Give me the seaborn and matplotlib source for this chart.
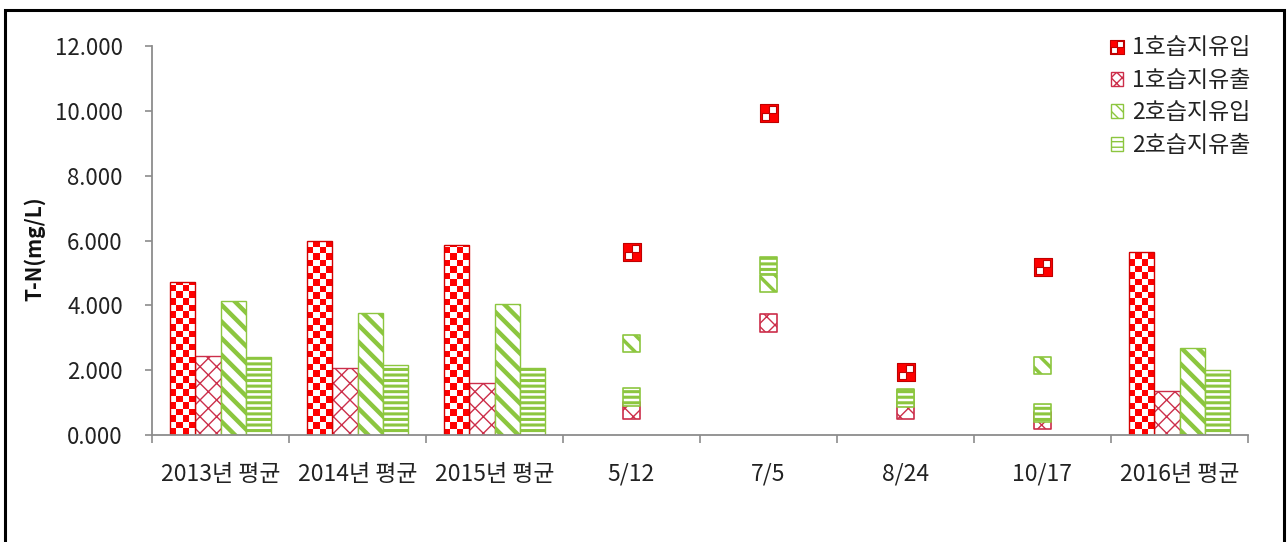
import math
import numpy as np
import pandas as pd
import matplotlib
matplotlib.use("Agg")
import matplotlib.pyplot as plt
from matplotlib.path import Path
from matplotlib.patches import Patch, Rectangle
from matplotlib.lines import Line2D
import seaborn as sns

# ---- data -------------------------------------------------------------
categories = ["2013년 평균", "2014년 평균", "2015년 평균", "5/12", "7/5",
              "8/24", "10/17", "2016년 평균"]
series = ["1호습지유입", "1호습지유출", "2호습지유입", "2호습지유출"]

avg_periods = ["2013년 평균", "2014년 평균", "2015년 평균", "2016년 평균"]
avg_in1 = [4.72, 6.00, 5.86, 5.63]
avg_out1 = [2.44, 2.06, 1.60, 1.35]
avg_in2 = [4.12, 3.75, 4.03, 2.67]
avg_out2 = [2.40, 2.15, 2.06, 2.00]

dates = ["5/12", "7/5", "8/24", "10/17"]
d_in1 = [5.63, 9.93, 1.94, 5.19]
d_out1 = [0.75, 3.45, 0.75, 0.45]
d_in2 = [2.83, 4.68, 1.15, 2.15]
d_out2 = [1.17, 5.23, 1.13, 0.68]

yticks = [0, 2, 4, 6, 8, 10, 12]

# ---- styling ----------------------------------------------------------
RED = "#FF0000"
RED_EDGE = "#D40000"
DARK_RED = "#C00000"
CRIMSON = "#CC2E4A"
GREEN = "#92D050"
GREEN_EDGE = "#8CC63F"
AXIS_GRAY = "#8C8C8C"
TEXT = "#222222"

sns.set_theme(style="white")
plt.rcParams["font.family"] = ["Noto Sans CJK KR", "DejaVu Sans"]
plt.rcParams["axes.unicode_minus"] = False

avg_df = pd.DataFrame({
    "period": np.repeat(avg_periods, len(series)),
    "series": series * len(avg_periods),
    "tn": np.ravel(np.column_stack([avg_in1, avg_out1, avg_in2, avg_out2])),
})

fig = plt.figure(figsize=(12.87, 5.42), dpi=100)
ax = fig.add_axes([152 / 1287, 107 / 542, 1096 / 1287, 389 / 542])

sns.barplot(data=avg_df, x="period", y="tn", hue="series", order=categories,
            hue_order=series, width=0.74, dodge=True, errorbar=None,
            legend=False, palette=["white"] * 4, ax=ax)

bar_styles = [
    dict(edge=RED_EDGE, hatch=None, hlw=1.0),
    dict(edge=CRIMSON, hatch="xx", hlw=1.0),
    dict(edge=GREEN_EDGE, hatch="\\\\", hlw=3.2),
    dict(edge=GREEN_EDGE, hatch="---", hlw=2.2),
]


def set_hatch_lw(artist, lw):
    if hasattr(artist, "set_hatch_linewidth"):
        artist.set_hatch_linewidth(lw)
    else:
        artist._hatch_linewidth = lw


for cont, st in zip(ax.containers, bar_styles):
    for patch in cont.patches:
        patch.set_edgecolor(st["edge"])
        patch.set_linewidth(1.0)
        patch.set_facecolor("white")
        if st["hatch"]:
            patch.set_hatch(st["hatch"])
            set_hatch_lw(patch, st["hlw"])

# checkerboard fill for the inflow bars of wetland 1
cell_h = 0.2
for patch in ax.containers[0].patches:
    h = patch.get_height()
    if not np.isfinite(h) or h <= 0:
        continue
    x0, w = patch.get_x(), patch.get_width()
    nrows = int(math.ceil(h / cell_h))
    ncols = 4
    grid = (np.add.outer(np.arange(nrows), np.arange(ncols)) % 2 == 0)
    img = np.ones((nrows, ncols, 3))
    img[grid] = matplotlib.colors.to_rgb(RED)
    im = ax.imshow(img, extent=(x0, x0 + w, 0, nrows * cell_h), origin="lower",
                   interpolation="nearest", aspect="auto", zorder=2.1)
    im.set_clip_path(patch)
    patch.set_facecolor("none")
    patch.set_zorder(2.2)

# ---- individual sampling dates as markers -----------------------------
checker_marker = Path(
    [(-1, -1), (1, -1), (1, 1), (-1, 1), (-1, -1),
     (0.0, 0.0), (0.0, 0.8), (0.8, 0.8), (0.8, 0.0), (0.0, 0.0),
     (-0.8, -0.8), (-0.8, 0.0), (0.0, 0.0), (0.0, -0.8), (-0.8, -0.8)],
    [Path.MOVETO, Path.LINETO, Path.LINETO, Path.LINETO, Path.CLOSEPOLY] * 3,
)

date_df = pd.DataFrame({"date": dates, "in1": d_in1, "out1": d_out1,
                        "in2": d_in2, "out2": d_out2})

marker_specs = [
    ("in1", dict(marker=checker_marker, color=RED, edgecolor=DARK_RED,
                 linewidth=0.8), None, 1.0),
    ("out1", dict(marker="s", color="white", edgecolor=CRIMSON,
                  linewidth=1.2), "xx", 1.0),
    ("in2", dict(marker="s", color="white", edgecolor=GREEN_EDGE,
                 linewidth=1.2), "\\\\", 2.5),
    ("out2", dict(marker="s", color="white", edgecolor=GREEN_EDGE,
                  linewidth=1.2), "---", 2.2),
]

for i, (col, kw, hatch, hlw) in enumerate(marker_specs):
    n_before = len(ax.collections)
    extra = {"hatch": hatch} if hatch else {}
    with plt.rc_context({"hatch.color": kw["edgecolor"], "hatch.linewidth": hlw}):
        sns.stripplot(data=date_df, x="date", y=col, order=categories,
                      jitter=False, size=12.5, ax=ax, zorder=3 + i,
                      **kw, **extra)
    for coll in ax.collections[n_before:]:
        set_hatch_lw(coll, hlw)
        if hatch:
            coll._hatch_color = matplotlib.colors.to_rgba(kw["edgecolor"])

# ---- axes -------------------------------------------------------------
ax.set_xlim(-0.5, len(categories) - 0.5)
ax.set_ylim(0, 12)
ax.set_yticks(yticks)
ax.yaxis.set_major_formatter(matplotlib.ticker.FormatStrFormatter("%.3f"))
ax.set_xticks(range(len(categories)))
ax.set_xticklabels(categories)
ax.set_xticks(np.arange(-0.5, len(categories)), minor=True)
ax.tick_params(axis="x", which="major", length=0, pad=20, labelsize=16.5,
               labelcolor=TEXT)
ax.tick_params(axis="x", which="minor", length=6, width=1.2, color=AXIS_GRAY,
               direction="out", bottom=True)
ax.tick_params(axis="y", which="major", length=5, width=1.2, color=AXIS_GRAY,
               direction="out", left=True, pad=16, labelsize=16,
               labelcolor=TEXT)
for side in ("top", "right"):
    ax.spines[side].set_visible(False)
for side in ("left", "bottom"):
    ax.spines[side].set_color(AXIS_GRAY)
    ax.spines[side].set_linewidth(1.3)
ax.set_xlabel("")
ax.set_ylabel("T-N(mg/L)", fontsize=15, fontweight="bold", color="#111111")
ax.yaxis.set_label_coords(-0.107, 0.48)
ax.yaxis.label.set_verticalalignment("center")
ax.grid(False)

# ---- legend -----------------------------------------------------------
handles = [
    Line2D([], [], linestyle="none", marker=checker_marker, markersize=10,
           markerfacecolor=RED, markeredgecolor=DARK_RED, markeredgewidth=0.8),
    Patch(facecolor="white", edgecolor=CRIMSON, hatch="xxx", linewidth=1.0),
    Patch(facecolor="white", edgecolor=GREEN_EDGE, hatch="\\\\\\", linewidth=1.0),
    Patch(facecolor="white", edgecolor=GREEN_EDGE, hatch="---", linewidth=1.0),
]
leg = fig.legend(handles, series, loc="upper right",
                 bbox_to_anchor=(1260 / 1287, 1 - 27 / 542), frameon=False,
                 fontsize=16.5, handlelength=0.55, handleheight=0.55,
                 handletextpad=0.4, labelspacing=0.42, borderaxespad=0)
for t in leg.get_texts():
    t.set_color(TEXT)

# outer chart border
fig.add_artist(Rectangle((5 / 1287, -0.05), 1279 / 1287, 1 - 10 / 542 + 0.05,
                         transform=fig.transFigure, fill=False,
                         edgecolor="black", linewidth=2.2))

fig.savefig("out.png", dpi=100)
